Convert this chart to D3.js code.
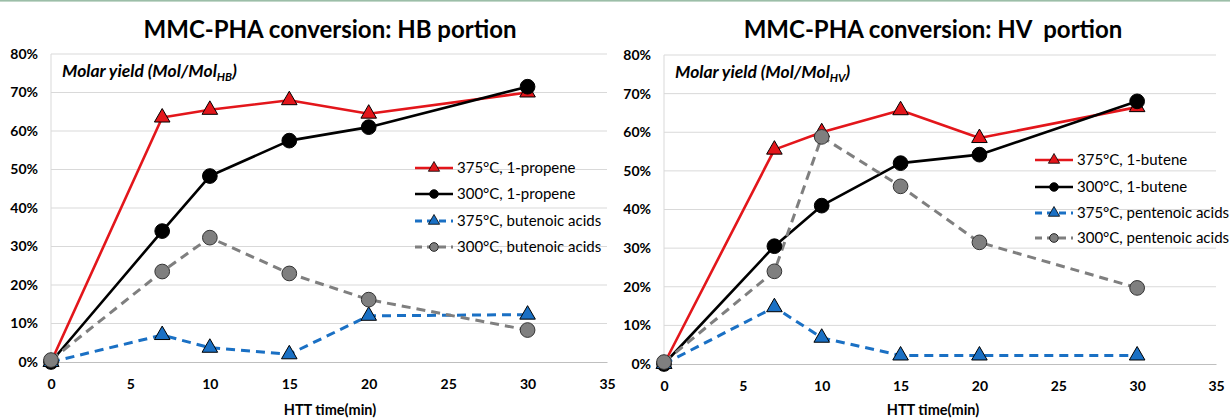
<!DOCTYPE html>
<html><head><meta charset="utf-8">
<script src="https://cdn.jsdelivr.net/npm/d3@7"></script>
<style>body{margin:0;background:#fff}svg{display:block}</style>
</head><body>
<svg id="c" width="1230" height="420"></svg>
<script>
const times = [0, 7, 10, 15, 20, 30];
const xTicks = [0, 5, 10, 15, 20, 25, 30, 35];
const yTicks = [0, 0.1, 0.2, 0.3, 0.4, 0.5, 0.6, 0.7, 0.8];

const hbTitle = "MMC-PHA conversion: HB portion";
const hvTitle = "MMC-PHA conversion: HV  portion";
const xTitle = "HTT time(min)";

const hbNames = ["375°C, 1-propene", "300°C, 1-propene", "375°C, butenoic acids", "300°C, butenoic acids"];
const hb375Propene = [0, 0.635, 0.655, 0.68, 0.645, 0.70];
const hb300Propene = [0, 0.34, 0.483, 0.575, 0.61, 0.715];
const hb375Butenoic = [0, 0.07, 0.037, 0.02, 0.12, 0.123];
const hb300Butenoic = [0.005, 0.235, 0.323, 0.23, 0.162, 0.083];

const hvNames = ["375°C, 1-butene", "300°C, 1-butene", "375°C, pentenoic acids", "300°C, pentenoic acids"];
const hv375Butene = [0, 0.555, 0.60, 0.657, 0.585, 0.665];
const hv300Butene = [0, 0.305, 0.41, 0.52, 0.542, 0.68];
const hv375Pentenoic = [0, 0.147, 0.068, 0.022, 0.022, 0.022];
const hv300Pentenoic = [0.005, 0.24, 0.588, 0.46, 0.315, 0.197];

const styles = [
  {stroke:"#e3161b", fill:"#e3161b", dash:null, width:2.6, shape:"tri"},
  {stroke:"#000000", fill:"#000000", dash:null, width:2.6, shape:"circ"},
  {stroke:"#1a70c4", fill:"#1a70c4", dash:"9,6", width:3, shape:"tri"},
  {stroke:"#7f7f7f", fill:"#7f7f7f", dash:"9,6", width:3, shape:"circ"}
];

const svg = d3.select("#c");
const FONT = "Lato, 'Open Sans', sans-serif";

svg.append("rect").attr("x",0).attr("y",0).attr("width",1230).attr("height",1.6).attr("fill","#9cbea8");

function drawChart(cfg){
  const x = d3.scaleLinear().domain([0,35]).range(cfg.xr);
  const y = d3.scaleLinear().domain([0,0.8]).range(cfg.yr);
  const g = svg.append("g");

  g.selectAll(".grid").data(yTicks.slice(1)).join("line")
    .attr("x1", x(0)).attr("x2", x(35))
    .attr("y1", d=>y(d)).attr("y2", d=>y(d))
    .attr("stroke","#d9d9d9").attr("stroke-width",1);
  g.append("line").attr("x1",x(0)).attr("x2",x(0)).attr("y1",y(0.8)).attr("y2",y(0))
    .attr("stroke","#d9d9d9").attr("stroke-width",1);

  const xa = g.append("g").attr("transform",`translate(0,${y(0)})`)
    .call(d3.axisBottom(x).tickValues(xTicks).tickSize(0).tickPadding(17).tickFormat(d3.format("d")));
  xa.select(".domain").attr("stroke","#bfbfbf").attr("stroke-width",1.2);
  xa.selectAll("text").attr("font-family",FONT).attr("font-weight","bold").attr("font-size",14).attr("fill","#000");

  const ya = g.append("g").attr("transform",`translate(${x(0)},0)`)
    .call(d3.axisLeft(y).tickValues(yTicks).tickSize(0).tickPadding(13).tickFormat(d3.format(".0%")));
  ya.select(".domain").remove();
  ya.selectAll("text").attr("font-family",FONT).attr("font-weight","bold").attr("font-size",14).attr("fill","#000");

  g.append("text").attr("x",cfg.titleX).attr("y",38).attr("text-anchor","middle")
    .style("white-space","pre")
    .attr("font-family",FONT).attr("font-weight","bold").attr("font-size",24).text(cfg.title);
  g.append("text").attr("x",cfg.titleX).attr("y",415).attr("text-anchor","middle")
    .attr("font-family",FONT).attr("font-weight","bold").attr("font-size",14.5).text(xTitle);

  const my = g.append("text").attr("x",x(0)+11).attr("y",y(0.8)+23)
    .attr("font-family",FONT).attr("font-weight","bold").attr("font-style","italic").attr("font-size",17.5);
  my.append("tspan").text("Molar yield (Mol/Mol");
  my.append("tspan").attr("font-size",11.5).attr("dy",4).text(cfg.sub);
  my.append("tspan").attr("dy",-4).text(")");

  const line = d3.line().x((d,i)=>x(times[i])).y(d=>y(d));
  const tri = d3.symbol().type(d3.symbolTriangle);
  const circ = d3.symbol().type(d3.symbolCircle);

  cfg.series.forEach((vals, si)=>{
    const s = styles[si];
    g.append("path").datum(vals).attr("d", line).attr("fill","none")
      .attr("stroke", s.stroke).attr("stroke-width", s.width)
      .attr("stroke-dasharray", s.dash).attr("stroke-linejoin","round");
  });
  cfg.series.forEach((vals, si)=>{
    const s = styles[si];
    g.selectAll(null).data(vals).join("path")
      .attr("transform",(d,i)=>`translate(${x(times[i])},${y(d)})`)
      .attr("d", s.shape==="tri" ? tri.size(105)() : circ.size(170)())
      .attr("fill", s.fill).attr("stroke", s.shape==="tri" ? "#000" : (si===1?"#000":"#333")).attr("stroke-width",1);
  });

  const lg = g.append("g");
  cfg.names.forEach((n, i)=>{
    const s = styles[i];
    const yy = cfg.legY[i];
    lg.append("line").attr("x1",cfg.legX).attr("x2",cfg.legX+38).attr("y1",yy).attr("y2",yy)
      .attr("stroke",s.stroke).attr("stroke-width",s.width).attr("stroke-dasharray", s.dash ? "7,5" : null);
    lg.append("path").attr("transform",`translate(${cfg.legX+19},${yy})`)
      .attr("d", s.shape==="tri" ? tri.size(55)() : circ.size(60)())
      .attr("fill", s.fill).attr("stroke", "#000").attr("stroke-width",0.8);
    lg.append("text").attr("x",cfg.legX+42).attr("y",yy+5)
      .attr("font-family",FONT).attr("font-size",15).attr("fill","#000").text(n);
  });
}

drawChart({xr:[51,607], yr:[362,54], title:hbTitle, titleX:330, sub:"HB",
  series:[hb375Propene, hb300Propene, hb375Butenoic, hb300Butenoic], names:hbNames,
  legX:415, legY:[168,194,221,247]});
drawChart({xr:[664,1216], yr:[364,55], title:hvTitle, titleX:933, sub:"HV",
  series:[hv375Butene, hv300Butene, hv375Pentenoic, hv300Pentenoic], names:hvNames,
  legX:1035, legY:[160,187,213,238]});
</script>
</body></html>
